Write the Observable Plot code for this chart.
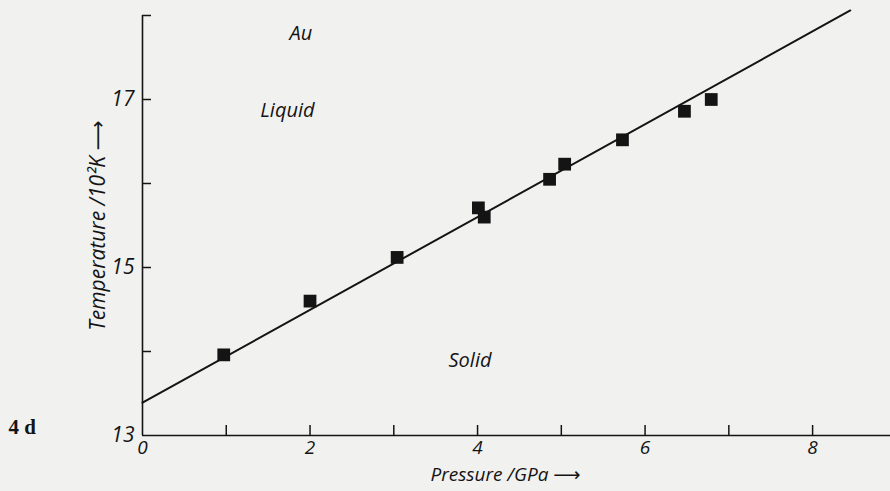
<!DOCTYPE html>
<html><head><meta charset="utf-8">
<script src="https://cdn.jsdelivr.net/npm/d3@7"></script>
<script src="https://cdn.jsdelivr.net/npm/@observablehq/plot@0.6"></script>
<style>
html,body{margin:0;padding:0;background:#f1f1f0;}
#chart svg{display:block;background:#f1f1f0;}
</style></head><body><div id="chart"></div>
<script>
// Measured melting points of Au
const pressure = [0.97, 2.0, 3.04, 4.01, 4.08, 4.86, 5.04, 5.73, 6.47, 6.79];
const temperature = [13.96, 14.6, 15.12, 15.71, 15.6, 16.05, 16.23, 16.52, 16.86, 17.0];
// Theoretical melting curve (straight line)
const curveP = [0, 8.45];
const curveT = [13.39, 18.06];
// Axis ticks
const xTicks = [1, 2, 3, 4, 5, 6, 7, 8];
const xTickLabels = [0, 2, 4, 6, 8];
const yTicks = [14, 15, 16, 17, 18];
const yTickLabels = [13, 15, 17];
// Region annotations
const notes = [
  {label: "Au", p: 1.89, t: 17.79},
  {label: "Liquid", p: 1.73, t: 16.87},
  {label: "Solid", p: 3.91, t: 13.89}
];

const pts = pressure.map((p, i) => ({p, t: temperature[i]}));
const curve = curveP.map((p, i) => ({p, t: curveT[i]}));
const ink = "#141414";
const font = "'Open Sans', 'DejaVu Sans', sans-serif";
const W = 890, H = 491, ML = 142, MR = 0, MT = 15, MB = 56;
const frameW = W - ML - MR, frameH = H - MT - MB;

const chart = Plot.plot({
  width: W, height: H,
  marginLeft: ML, marginRight: MR, marginTop: MT, marginBottom: MB,
  style: {background: "#f1f1f0", color: ink, fontFamily: font},
  x: {domain: [0, 8.93], label: null},
  y: {domain: [13, 18], label: null},
  marks: [
    Plot.ruleY([13], {stroke: ink, strokeWidth: 1.6}),
    Plot.ruleX([0], {stroke: ink, strokeWidth: 1.6}),
    Plot.tickX(xTicks, {x: d => d, insetTop: frameH - 10, stroke: ink, strokeWidth: 1.5}),
    Plot.tickY(yTicks, {y: d => d, insetRight: frameW - 9, stroke: ink, strokeWidth: 1.5}),
    Plot.axisX({ticks: xTickLabels, tickSize: 0, tickPadding: 5, fontSize: 19, fontStyle: "italic", fill: ink, label: null, tickFormat: d3.format("d")}),
    Plot.axisY({ticks: yTickLabels, tickSize: 0, tickPadding: 8, fontSize: 21, fontStyle: "italic", fill: ink, label: null, tickFormat: d3.format("d")}),
    Plot.line(curve, {x: "p", y: "t", stroke: ink, strokeWidth: 2, clip: false}),
    Plot.dot(pts, {x: "p", y: "t", symbol: "square", r: 7.2, fill: ink, stroke: "none"}),
    Plot.text(notes, {x: "p", y: "t", text: "label", fontSize: 20, fontStyle: "italic", fill: ink}),
    Plot.text(["Pressure /GPa ⟶"], {frameAnchor: "bottom", dx: -11, dy: 45, fontSize: 19, fontStyle: "italic", fill: ink}),
    Plot.text(["Temperature /10²K ⟶"], {frameAnchor: "left", textAnchor: "middle", dx: -44, rotate: -90, fontSize: 21, fontStyle: "italic", fill: ink}),
    Plot.text(["4 d"], {frameAnchor: "bottom-left", textAnchor: "start", dx: -134, dy: -2, fontSize: 21, fontFamily: "'Liberation Serif', serif", fontWeight: "bold", fill: ink})
  ]
});
document.getElementById("chart").append(chart);
</script></body></html>
